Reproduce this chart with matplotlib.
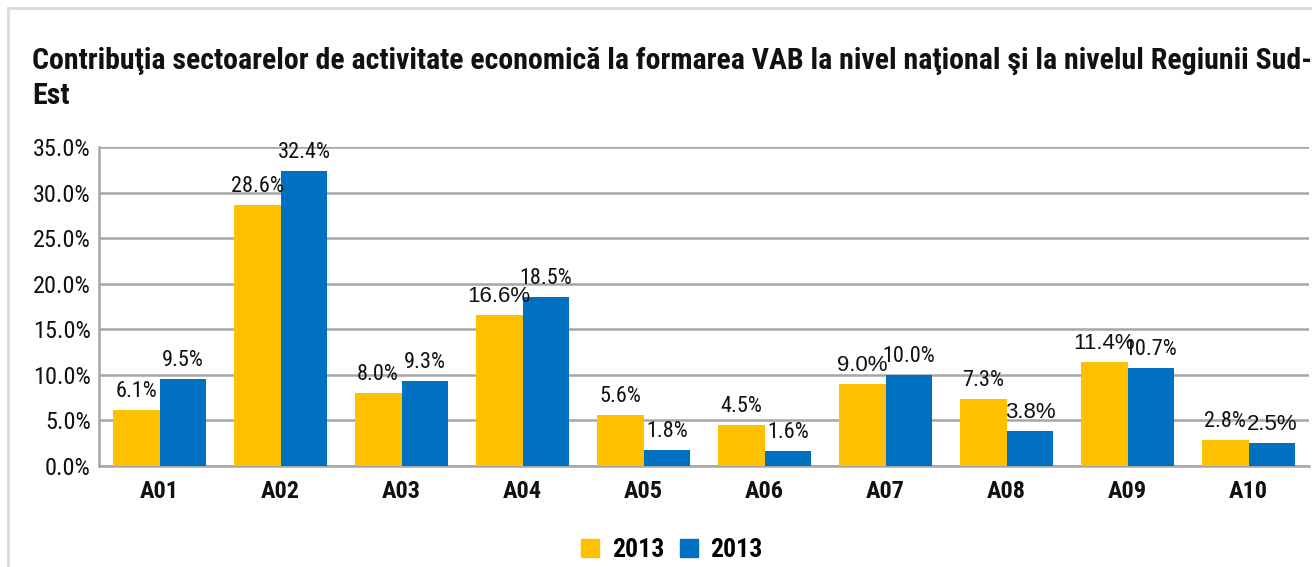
import numpy as np
import matplotlib
matplotlib.use("Agg")
import matplotlib.pyplot as plt
from matplotlib.patches import Rectangle
from matplotlib.lines import Line2D

# date
categorii = ["A01", "A02", "A03", "A04", "A05", "A06", "A07", "A08", "A09", "A10"]
val_nat = [6.1, 28.6, 8.0, 16.6, 5.6, 4.5, 9.0, 7.3, 11.4, 2.8]
val_se = [9.5, 32.4, 9.3, 18.5, 1.8, 1.6, 10.0, 3.8, 10.7, 2.5]
# etichetele care apar cu font normal (nu condensat) in original
lat_nat = [False, False, False, True, False, False, True, False, True, False]
lat_se = [False, False, False, False, False, False, False, True, False, True]
serii = ["2013", "2013"]
titlu = ("Contribuţia sectoarelor de activitate economică la formarea VAB la nivel naţional şi la nivelul Regiunii Sud-\n"
         "Est")

galben = "#FFC000"
albastru = "#0070C0"
ingust = ["Roboto Condensed", "DejaVu Sans"]
lat = ["Liberation Sans", "DejaVu Sans"]

plt.rcParams["font.family"] = ingust

fig = plt.figure(figsize=(13.12, 5.67), dpi=100)
ax = fig.add_axes([99/1312, 1-466/567, 1210/1312, 319/567])

x = np.arange(len(categorii))
w = 0.388
b1 = ax.bar(x - w/2, val_nat, w, color=galben, zorder=3)
b2 = ax.bar(x + w/2, val_se, w, color=albastru, zorder=3)

for bars, vals, flags in [(b1, val_nat, lat_nat), (b2, val_se, lat_se)]:
    for b, v, f in zip(bars, vals, flags):
        ax.annotate("%.1f%%" % v, (b.get_x() + b.get_width()/2, v),
                    xytext=(0, 9.4), textcoords="offset points",
                    ha="center", va="baseline", fontsize=16,
                    family=lat if f else ingust, color="#111111", zorder=4)

ax.set_xlim(-0.5, len(categorii) - 0.5)
ax.set_ylim(0, 35)
ax.set_yticks(np.arange(0, 36, 5))
ax.set_yticklabels(["%.1f%%" % t for t in np.arange(0, 36, 5)], fontsize=17.5)
ax.set_xticks(x)
ax.set_xticklabels(categorii, fontsize=17.5, fontweight="bold")
ax.tick_params(axis="y", length=0, pad=6, colors="#111111")
ax.tick_params(axis="x", length=0, pad=10, colors="#111111")
ax.yaxis.grid(True, color="#A6A6A6", linewidth=1.8, zorder=0)
for s in ["top", "right"]:
    ax.spines[s].set_visible(False)
ax.spines["left"].set_color("#A6A6A6")
ax.spines["left"].set_linewidth(1.8)
ax.spines["bottom"].set_color("#A6A6A6")
ax.spines["bottom"].set_linewidth(1.8)

fig.text(32/1312, 1-78/567, titlu, fontsize=21.5, fontweight="bold",
         va="center", ha="left", linespacing=1.32, color="#111111")

# chenar exterior
fig.add_artist(Line2D([8/1312, 1], [1-8/567, 1-8/567], color="#D9D9D9", lw=2, transform=fig.transFigure))
fig.add_artist(Line2D([8/1312, 8/1312], [0, 1-8/567], color="#D9D9D9", lw=2, transform=fig.transFigure))

handles = [Rectangle((0, 0), 1, 1, color=galben), Rectangle((0, 0), 1, 1, color=albastru)]
fig.legend(handles, serii, loc="center", bbox_to_anchor=(672/1312, 1-550/567), ncol=2,
           frameon=False, prop={"family": ingust, "weight": "bold", "size": 18.5},
           handlelength=0.7, handleheight=0.7, handletextpad=0.5, columnspacing=0.6)

fig.savefig("out.png", dpi=100)
